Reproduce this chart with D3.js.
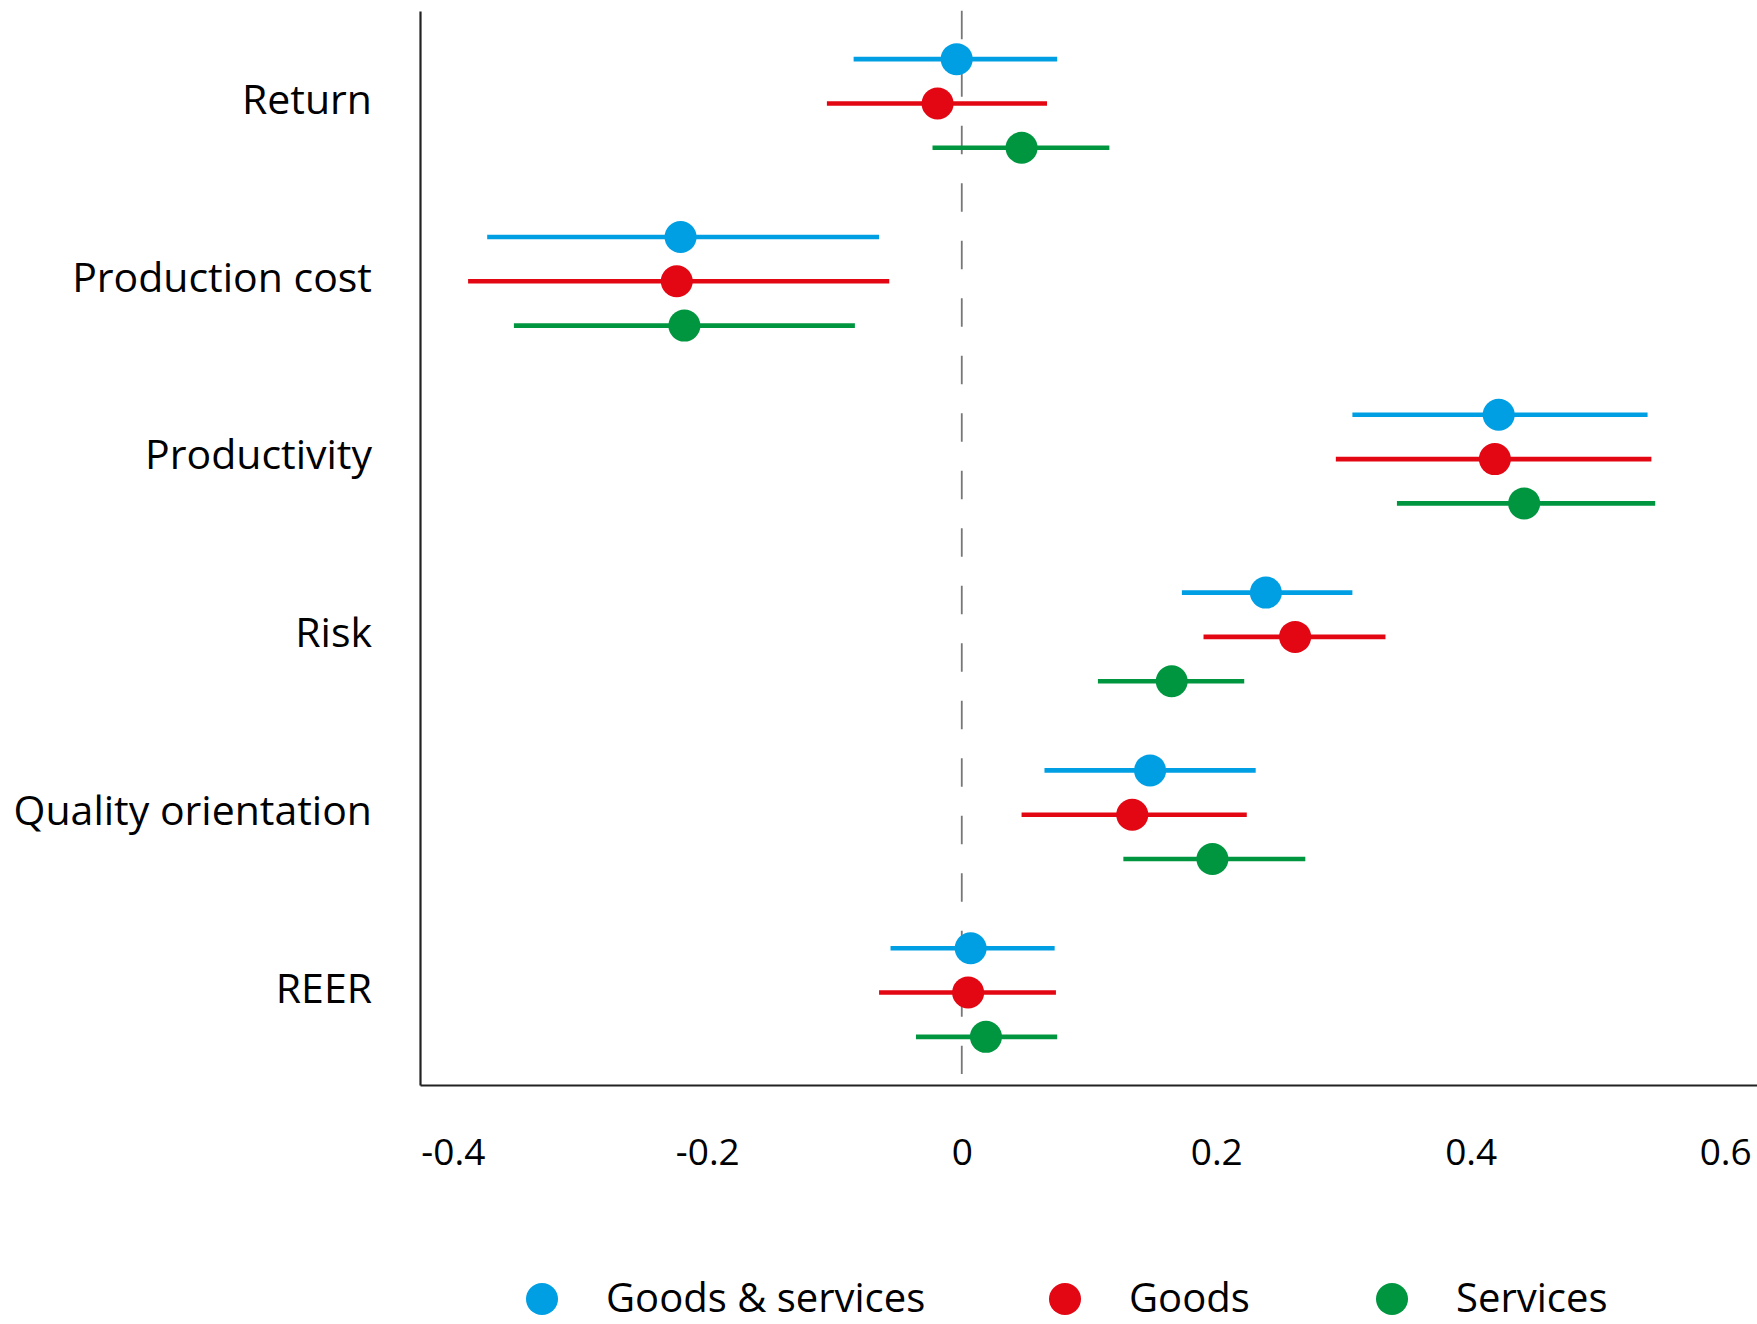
<!DOCTYPE html>
<html>
<head>
<meta charset="utf-8">
<script src="https://cdn.jsdelivr.net/npm/d3@7"></script>
<style>
  body { margin: 0; background: #fff; }
  text { font-family: "Open Sans", sans-serif; fill: #000; }
</style>
</head>
<body>
<div id="wrapper"></div>
<script>
// DATA
const categories = ["Return", "Production cost", "Productivity", "Risk", "Quality orientation", "REER"]
const seriesNames = ["Goods & services", "Goods", "Services"]
const seriesColors = ["#009fe3", "#e30613", "#009640"]
const xTicks = [-0.4, -0.2, 0, 0.2, 0.4, 0.6]

// point estimates, one array per series, same order as categories
const goodsServicesEst = [-0.004, -0.221, 0.422, 0.239, 0.148, 0.007]
const goodsEst         = [-0.019, -0.224, 0.419, 0.262, 0.134, 0.005]
const servicesEst      = [ 0.047, -0.218, 0.442, 0.165, 0.197, 0.019]

// confidence interval bounds
const goodsServicesLow  = [-0.085, -0.373, 0.307, 0.173, 0.065, -0.056]
const goodsServicesHigh = [ 0.075, -0.065, 0.539, 0.307, 0.231,  0.073]
const goodsLow          = [-0.106, -0.388, 0.294, 0.190, 0.047, -0.065]
const goodsHigh         = [ 0.067, -0.057, 0.542, 0.333, 0.224,  0.074]
const servicesLow       = [-0.023, -0.352, 0.342, 0.107, 0.127, -0.036]
const servicesHigh      = [ 0.116, -0.084, 0.545, 0.222, 0.270,  0.075]

const estimates = [goodsServicesEst, goodsEst, servicesEst]
const lows = [goodsServicesLow, goodsLow, servicesLow]
const highs = [goodsServicesHigh, goodsHigh, servicesHigh]

// flat rows for drawing
const rows = []
categories.forEach((cat, i) => {
    seriesNames.forEach((s, j) => {
        rows.push({ cat, series: j, est: estimates[j][i], lo: lows[j][i], hi: highs[j][i] })
    })
})

const width = 1757
const height = 1324

const wrapper = d3.select('#wrapper')
    .append('svg')
    .attr('width', width)
    .attr('height', height)

// SCALES
const xScale = d3.scaleLinear()
    .domain([-0.4258, 0.625])
    .range([420, 1757])

const yScale = d3.scaleBand()
    .domain(categories)
    .range([11, 1085])
    .paddingOuter(0.02)
    .paddingInner(0)

const offset = 44.3
const yPos = d => yScale(d.cat) + yScale.bandwidth() / 2 + (d.series - 1) * offset

// AXES
const xAxis = d3.axisBottom(xScale)
    .tickValues(xTicks)
    .tickFormat(d => d === 0 ? "0" : d.toFixed(1))   // plain hyphen like the original
    .tickSize(0)
    .tickSizeOuter(0)

const xAxisGroup = wrapper.append('g')
    .attr('transform', 'translate(0,1085)')
    .call(xAxis)
xAxisGroup.select('.domain').attr('stroke', '#222').attr('stroke-width', 2.2)
xAxisGroup.selectAll('text')
    .attr('y', 80)
    .attr('dy', 0)
    .style('font-size', '37px')

const yAxis = d3.axisLeft(yScale)
    .tickSize(0)
    .tickSizeOuter(0)
    .tickPadding(48)

const yAxisGroup = wrapper.append('g')
    .attr('transform', 'translate(420,0)')
    .call(yAxis)
yAxisGroup.select('.domain').attr('stroke', '#222').attr('stroke-width', 2.2)
yAxisGroup.selectAll('text')
    .attr('dy', '0.25em')
    .style('font-size', '41px')

// zero line
wrapper.append('line')
    .attr('x1', xScale(0)).attr('x2', xScale(0))
    .attr('y1', 10.7).attr('y2', 1074)
    .attr('stroke', '#777')
    .attr('stroke-width', 1.8)
    .attr('stroke-dasharray', '28.5,29')

// WHISKERS
wrapper.selectAll('.ci')
    .data(rows)
    .enter().append('line')
    .attr('class', 'ci')
    .attr('x1', d => xScale(d.lo))
    .attr('x2', d => xScale(d.hi))
    .attr('y1', yPos)
    .attr('y2', yPos)
    .attr('stroke', d => seriesColors[d.series])
    .attr('stroke-width', 4.6)

// DOTS
wrapper.selectAll('.dot')
    .data(rows)
    .enter().append('circle')
    .attr('class', 'dot')
    .attr('cx', d => xScale(d.est))
    .attr('cy', yPos)
    .attr('r', 16)
    .attr('fill', d => seriesColors[d.series])

// LEGEND
const legendX = [542, 1065, 1392]
const legend = wrapper.selectAll('.legend')
    .data(seriesNames)
    .enter().append('g')
    .attr('class', 'legend')
    .attr('transform', (d, i) => `translate(${legendX[i]},1299)`)

legend.append('circle')
    .attr('r', 16)
    .attr('fill', (d, i) => seriesColors[i])

legend.append('text')
    .attr('x', 64)
    .attr('y', 13)
    .style('font-size', '40px')
    .text(d => d)
</script>
</body>
</html>
